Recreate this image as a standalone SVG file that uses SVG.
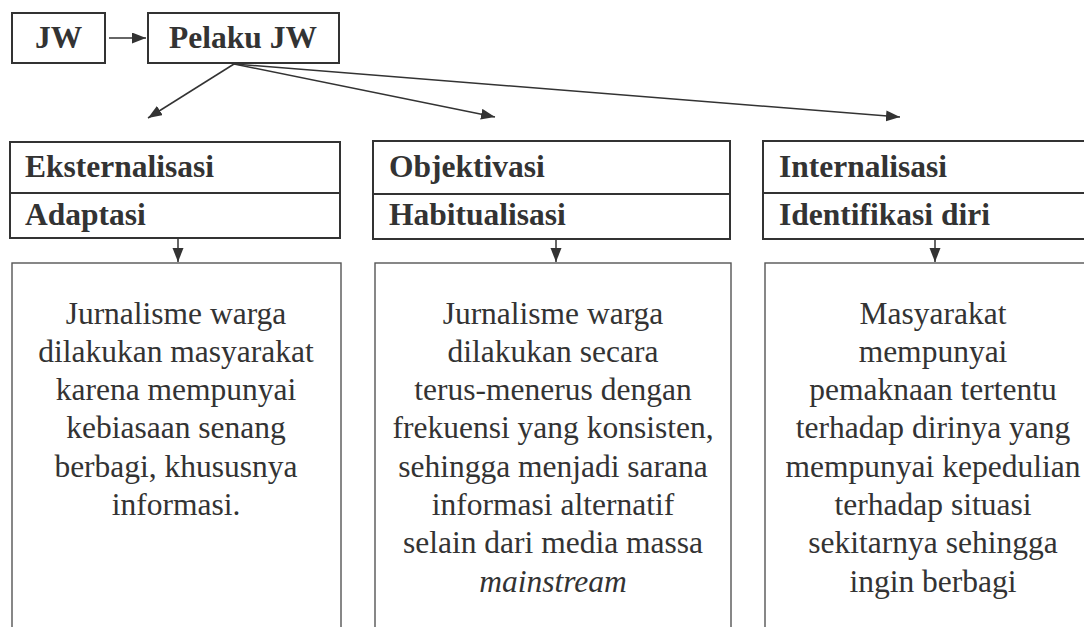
<svg xmlns="http://www.w3.org/2000/svg" width="1084" height="627" viewBox="0 0 1084 627">
<style>
.hb{fill:#fff;stroke:#333;stroke-width:2}
.bb{fill:#fff;stroke:#555;stroke-width:1.4}
.ht{font-family:"Liberation Serif","Times New Roman",serif;font-weight:bold;font-size:31.5px;fill:#333}
.bt{font-family:"Liberation Serif","Times New Roman",serif;font-size:31.5px;fill:#333;text-anchor:middle}
.cn{stroke:#333;stroke-width:1.5;fill:none;marker-end:url(#ah)}
</style>
<defs>
<marker id="ah" markerUnits="userSpaceOnUse" markerWidth="16" markerHeight="12" refX="14" refY="5.5" orient="auto">
<path d="M0,0 L14,5.5 L0,11 z" fill="#333"/>
</marker>
</defs>
<g id="node-jw">
<rect class="hb" x="12" y="13" width="93" height="50"/>
<text class="ht" x="58.5" y="48" text-anchor="middle">JW</text>
</g>
<g id="node-pelaku">
<rect class="hb" x="148" y="13" width="191" height="50"/>
<text class="ht" x="243" y="48" text-anchor="middle">Pelaku JW</text>
</g>
<g id="node-eksternalisasi">
<rect class="hb" x="10" y="142" width="330" height="96"/>
<line x1="10" y1="193" x2="340" y2="193" stroke="#333" stroke-width="2"/>
<text class="ht" x="25" y="177">Eksternalisasi</text>
<text class="ht" x="25" y="225">Adaptasi</text>
</g>
<g id="node-objektivasi">
<rect class="hb" x="373" y="141" width="357" height="98"/>
<line x1="373" y1="194" x2="730" y2="194" stroke="#333" stroke-width="2"/>
<text class="ht" x="389" y="177">Objektivasi</text>
<text class="ht" x="389" y="225">Habitualisasi</text>
</g>
<g id="node-internalisasi">
<rect class="hb" x="763" y="141" width="340" height="98"/>
<line x1="763" y1="193" x2="1103" y2="193" stroke="#333" stroke-width="2"/>
<text class="ht" x="779" y="177">Internalisasi</text>
<text class="ht" x="779" y="225">Identifikasi diri</text>
</g>
<g id="node-body-left">
<rect class="bb" x="12" y="263" width="329" height="380"/>
<text class="bt" x="176" y="324">Jurnalisme warga</text>
<text class="bt" x="176" y="362">dilakukan masyarakat</text>
<text class="bt" x="176" y="400">karena mempunyai</text>
<text class="bt" x="176" y="438">kebiasaan senang</text>
<text class="bt" x="176" y="477">berbagi, khususnya</text>
<text class="bt" x="176" y="515">informasi.</text>
</g>
<g id="node-body-middle">
<rect class="bb" x="375" y="263" width="356" height="380"/>
<text class="bt" x="553" y="324">Jurnalisme warga</text>
<text class="bt" x="553" y="362">dilakukan secara</text>
<text class="bt" x="553" y="400">terus-menerus dengan</text>
<text class="bt" x="553" y="438">frekuensi yang konsisten,</text>
<text class="bt" x="553" y="477">sehingga menjadi sarana</text>
<text class="bt" x="553" y="515">informasi alternatif</text>
<text class="bt" x="553" y="553">selain dari media massa</text>
<text class="bt" x="553" y="592" font-style="italic">mainstream</text>
</g>
<g id="node-body-right">
<rect class="bb" x="765" y="263" width="340" height="380"/>
<text class="bt" x="933" y="324">Masyarakat</text>
<text class="bt" x="933" y="362">mempunyai</text>
<text class="bt" x="933" y="400">pemaknaan tertentu</text>
<text class="bt" x="933" y="438">terhadap dirinya yang</text>
<text class="bt" x="933" y="477">mempunyai kepedulian</text>
<text class="bt" x="933" y="515">terhadap situasi</text>
<text class="bt" x="933" y="553">sekitarnya sehingga</text>
<text class="bt" x="933" y="592">ingin berbagi</text>
</g>
<g id="connectors">
<line class="cn" x1="109" y1="38" x2="146" y2="38"/>
<line class="cn" x1="234" y1="64" x2="148" y2="118"/>
<line class="cn" x1="234" y1="64" x2="495" y2="117"/>
<line class="cn" x1="234" y1="64" x2="900" y2="117"/>
<line class="cn" x1="178" y1="239" x2="178" y2="262"/>
<line class="cn" x1="556" y1="240" x2="556" y2="262"/>
<line class="cn" x1="935" y1="240" x2="935" y2="262"/>
</g>
</svg>
